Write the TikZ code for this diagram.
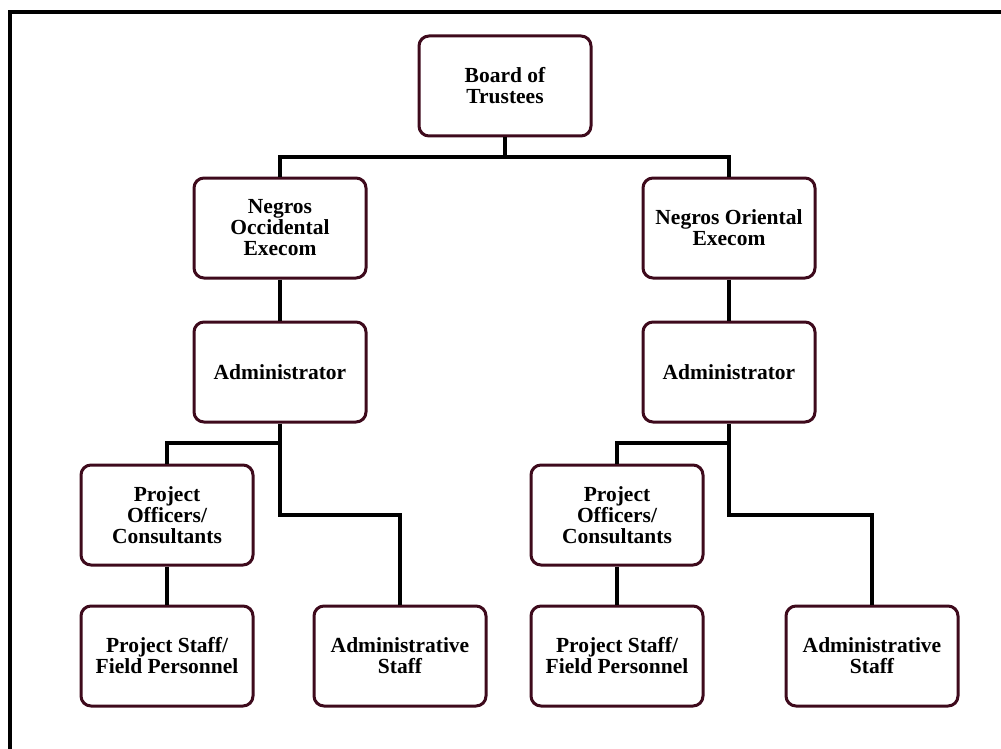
\documentclass[tikz,border=0pt]{standalone}
\usepackage{fontspec}
\setmainfont{Liberation Serif}
\usepackage{tikz}
\definecolor{boxline}{HTML}{3E0A1C}

\begin{document}
\begin{tikzpicture}[x=1pt, y=-1pt,
    unit/.style={draw=boxline, line width=3pt, rounded corners=10pt, fill=white,
      minimum width=172pt, minimum height=100pt, align=center,
      font=\bfseries\fontsize{21.5}{21}\selectfont},
    link/.style={draw=black, line width=3.5pt}]
  \useasboundingbox (0,0) rectangle (1001,749);
  \draw[line width=4pt] (10,749) -- (10,12) -- (1001,12);

  \node[unit] (bot)  at (505,86)  {Board of\\Trustees};
  \node[unit] (occ)  at (280,228) {Negros\\Occidental\\Execom};
  \node[unit] (ori)  at (729,228) {Negros Oriental\\Execom};
  \node[unit] (admL) at (280,372) {Administrator};
  \node[unit] (admR) at (729,372) {Administrator};
  \node[unit] (poL)  at (167,515) {Project\\Officers/\\Consultants};
  \node[unit] (poR)  at (617,515) {Project\\Officers/\\Consultants};
  \node[unit] (psL)  at (167,656) {Project Staff/\\Field Personnel};
  \node[unit] (asL)  at (400,656) {Administrative\\Staff};
  \node[unit] (psR)  at (617,656) {Project Staff/\\Field Personnel};
  \node[unit] (asR)  at (872,656) {Administrative\\Staff};

  \coordinate (top) at (505,157);
  \coordinate (jL)  at (280,443);
  \coordinate (kL)  at (280,515);
  \coordinate (jR)  at (729,443);
  \coordinate (kR)  at (729,515);

  \path[link]
  (bot) -- (top)
  (occ.north) |- (top) -| (ori.north)
  (occ) -- (admL)
  (ori) -- (admR)
  (admL.south) -- (kL) -| (asL.north)
  (jL) -| (poL.north)
  (admR.south) -- (kR) -| (asR.north)
  (jR) -| (poR.north)
  (poL) -- (psL)
  (poR) -- (psR)
  ;
\end{tikzpicture}
\end{document}
